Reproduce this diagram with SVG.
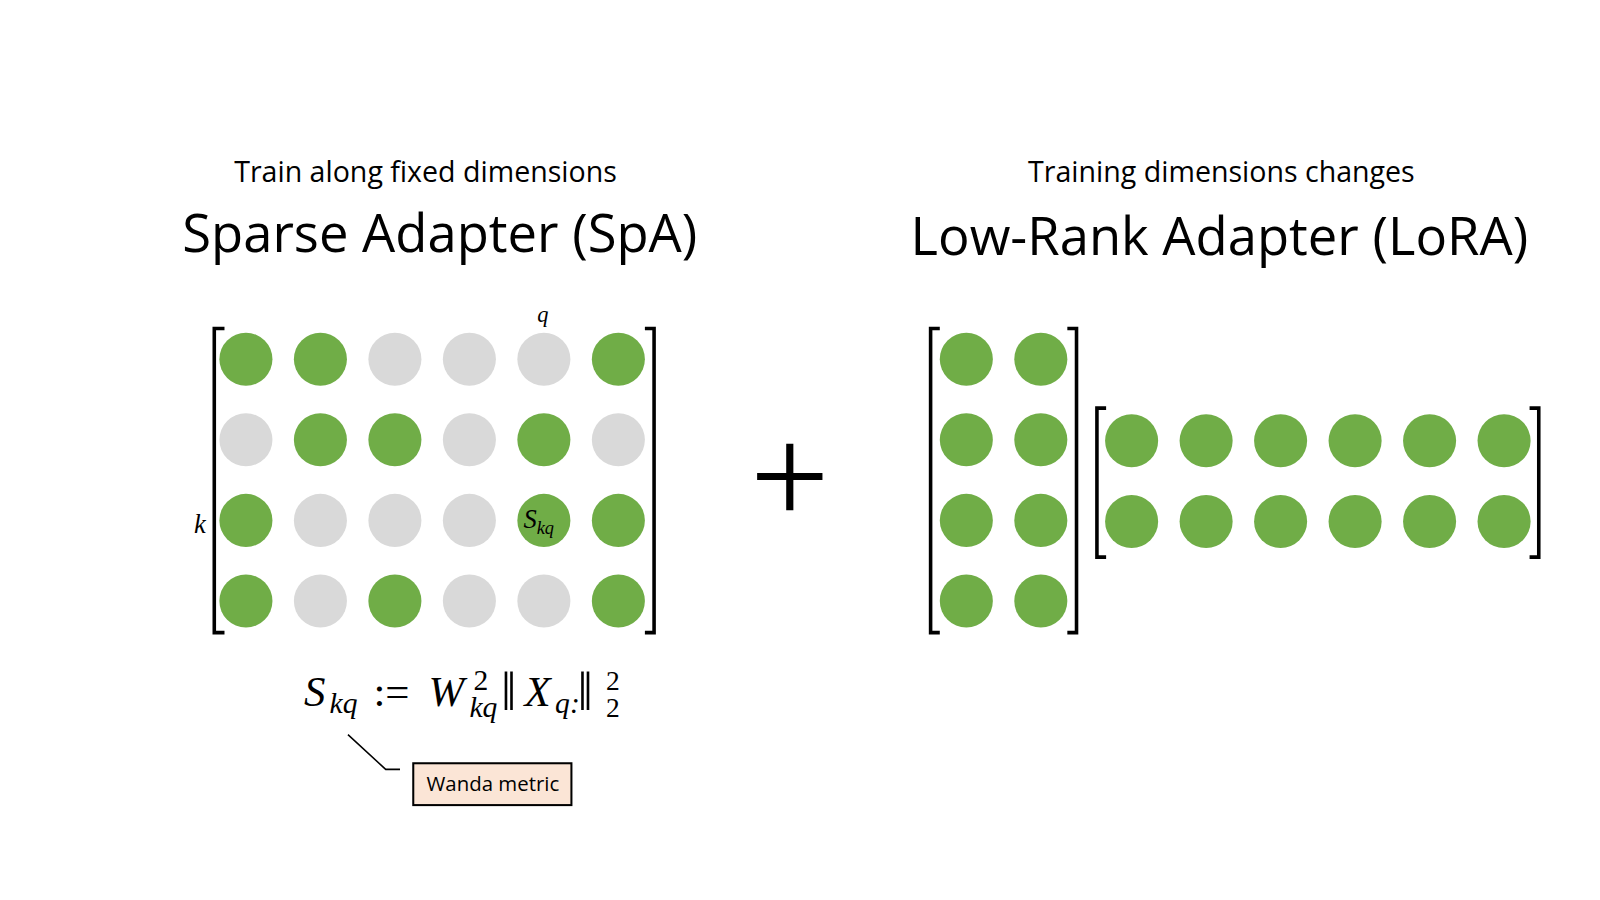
<svg xmlns="http://www.w3.org/2000/svg" width="1600" height="900" viewBox="0 0 1600 900">
<style>
.g{fill:#70AD47}.d{fill:#D9D9D9}
.br{fill:none;stroke:#000;stroke-width:3.5}
.t{font-family:"Open Sans","Liberation Sans",sans-serif;fill:#000}
.m{font-family:"Liberation Serif","DejaVu Serif",serif;font-style:italic;fill:#000}
.r{font-family:"Liberation Serif","DejaVu Serif",serif;fill:#000}
</style>
<rect width="1600" height="900" fill="#fff"/>
<g transform="scale(1.0204)">
<g id="titles">
<text class="t" x="417" y="178" font-size="28" text-anchor="middle">Train along fixed dimensions</text>
<text class="t" x="431" y="247" font-size="51.5" text-anchor="middle">Sparse Adapter (SpA)</text>
<text class="t" x="1197" y="178" font-size="28" text-anchor="middle">Training dimensions changes</text>
<text class="t" x="1195" y="250" font-size="51.5" text-anchor="middle">Low-Rank Adapter (LoRA)</text>
</g>
<g id="spa-matrix">
<path class="br" d="M220,322 H210 V620 H220"/>
<path class="br" d="M632,322 H641 V620 H632"/>
<circle class="g" cx="241" cy="352" r="26"/><circle class="g" cx="314" cy="352" r="26"/><circle class="d" cx="387" cy="352" r="26"/><circle class="d" cx="460" cy="352" r="26"/><circle class="d" cx="533" cy="352" r="26"/><circle class="g" cx="606" cy="352" r="26"/>
<circle class="d" cx="241" cy="431" r="26"/><circle class="g" cx="314" cy="431" r="26"/><circle class="g" cx="387" cy="431" r="26"/><circle class="d" cx="460" cy="431" r="26"/><circle class="g" cx="533" cy="431" r="26"/><circle class="d" cx="606" cy="431" r="26"/>
<circle class="g" cx="241" cy="510" r="26"/><circle class="d" cx="314" cy="510" r="26"/><circle class="d" cx="387" cy="510" r="26"/><circle class="d" cx="460" cy="510" r="26"/><circle class="g" cx="533" cy="510" r="26"/><circle class="g" cx="606" cy="510" r="26"/>
<circle class="g" cx="241" cy="589" r="26"/><circle class="d" cx="314" cy="589" r="26"/><circle class="g" cx="387" cy="589" r="26"/><circle class="d" cx="460" cy="589" r="26"/><circle class="d" cx="533" cy="589" r="26"/><circle class="g" cx="606" cy="589" r="26"/>
<text class="m" x="532" y="316" font-size="22" text-anchor="middle">q</text>
<text class="m" x="196" y="522" font-size="26" text-anchor="middle">k</text>
<text class="m" x="513" y="517" font-size="26">S<tspan font-size="18" dy="6">kq</tspan></text>
</g>
<g id="formula">
<text class="m" x="298" y="692" font-size="42">S</text>
<text class="m" x="323" y="699" font-size="29">kq</text>
<text class="r" x="366" y="692" font-size="42">:=</text>
<text class="m" x="420" y="692" font-size="42">W</text>
<text class="r" x="464" y="676" font-size="29">2</text>
<text class="m" x="460" y="703" font-size="29">kq</text>
<text class="r" x="491" y="696" font-size="54">‖</text>
<text class="m" x="514" y="692" font-size="42">X</text>
<text class="m" x="544" y="699" font-size="29">q:</text>
<text class="r" x="566" y="696" font-size="54">‖</text>
<text class="r" x="594" y="676" font-size="27">2</text>
<text class="r" x="594" y="703" font-size="27">2</text>
</g>
<g id="plus">
<path d="M742,467 H806 M774,435 V500" stroke="#000" stroke-width="7" fill="none"/>
</g>
<g id="lora-a">
<path class="br" d="M921,322 H912 V620 H921"/>
<path class="br" d="M1046,322 H1055 V620 H1046"/>
<circle class="g" cx="947" cy="352" r="26"/><circle class="g" cx="1020" cy="352" r="26"/>
<circle class="g" cx="947" cy="431" r="26"/><circle class="g" cx="1020" cy="431" r="26"/>
<circle class="g" cx="947" cy="510" r="26"/><circle class="g" cx="1020" cy="510" r="26"/>
<circle class="g" cx="947" cy="589" r="26"/><circle class="g" cx="1020" cy="589" r="26"/>
</g>
<g id="lora-b">
<path class="br" d="M1084,400 H1075 V546 H1084"/>
<path class="br" d="M1499,400 H1508 V546 H1499"/>
<circle class="g" cx="1109" cy="432" r="26"/><circle class="g" cx="1182" cy="432" r="26"/><circle class="g" cx="1255" cy="432" r="26"/><circle class="g" cx="1328" cy="432" r="26"/><circle class="g" cx="1401" cy="432" r="26"/><circle class="g" cx="1474" cy="432" r="26"/>
<circle class="g" cx="1109" cy="511" r="26"/><circle class="g" cx="1182" cy="511" r="26"/><circle class="g" cx="1255" cy="511" r="26"/><circle class="g" cx="1328" cy="511" r="26"/><circle class="g" cx="1401" cy="511" r="26"/><circle class="g" cx="1474" cy="511" r="26"/>
</g>
<g id="connectors">
<path d="M341,720 L378,754 H392" fill="none" stroke="#000" stroke-width="1.5"/>
</g>
<g id="wanda">
<rect x="405" y="748" width="155" height="41" fill="#FBE5D6" stroke="#000" stroke-width="2"/>
<text class="t" x="483" y="775" font-size="20" text-anchor="middle">Wanda metric</text>
</g>
</g>
</svg>
